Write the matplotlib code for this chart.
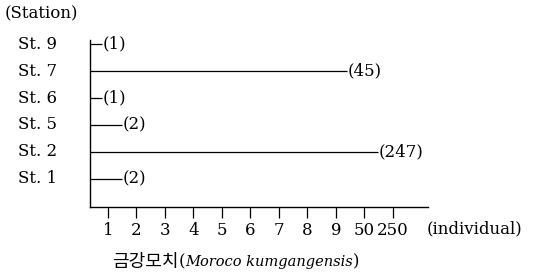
import numpy as np
import matplotlib
matplotlib.use("agg")
import matplotlib.pyplot as plt
from matplotlib.transforms import blended_transform_factory

stations = ["St. 9", "St. 7", "St. 6", "St. 5", "St. 2", "St. 1"]
counts = [1, 45, 1, 2, 247, 2]
tick_values = [1, 2, 3, 4, 5, 6, 7, 8, 9, 50, 250]
tick_labels = [str(v) for v in tick_values]

plt.rcParams["font.family"] = ["DejaVu Serif", "Noto Sans CJK KR"]
fs = 12
plt.rcParams["font.size"] = fs

# broken scale: 1..9 evenly spaced, then 50 and 250 one step each
tick_pos = np.arange(1, len(tick_values) + 1)


def to_pos(v):
    return np.interp(v, tick_values, tick_pos)


fig = plt.figure(figsize=(5.41, 2.80), dpi=100)
W, H = 541, 280
ax = fig.add_axes([90 / W, 1 - 207 / H, (428 - 90) / W, (207 - 40) / H])

x0 = 0.37
ax.set_xlim(x0, 12.23)
ax.set_ylim(6.04, -0.15)

ys = np.arange(len(stations))
for y, c in zip(ys, counts):
    end = max(to_pos(c) - 0.5, x0 + 0.42)
    ax.plot([x0, end], [y, y], color="black", lw=0.9, solid_capstyle="butt")
    ax.text(end + 0.02, y, "({})".format(c), va="center", ha="left", fontsize=fs)

for s in ["top", "right"]:
    ax.spines[s].set_visible(False)
for s in ["left", "bottom"]:
    ax.spines[s].set_linewidth(1.0)

ax.set_xticks(tick_pos)
ax.set_xticklabels(tick_labels)
ax.tick_params(axis="x", direction="out", length=8, width=0.9, pad=3, labelsize=fs)
ax.set_yticks([])

trans = blended_transform_factory(fig.transFigure, ax.transData)
for y, name in zip(ys, stations):
    ax.text(18 / W, y, name, transform=trans, va="center", ha="left", fontsize=fs)

fig.text(5 / W, 1 - 14 / H, "(Station)", va="center", ha="left", fontsize=fs)
fig.text(427 / W, 1 - 229 / H, "(individual)", va="center", ha="left", fontsize=fs)

# species label: Korean name + italic Latin name
ty = 1 - 262 / H
parts = [("금강모치", dict(fontsize=13, family=["Noto Sans CJK KR"])),
         ("(", dict(fontsize=fs)),
         ("Moroco kumgangensis", dict(fontsize=10.5, style="italic")),
         (")", dict(fontsize=fs))]
x = 112
for s, kw in parts:
    t = fig.text(x / W, ty, s, va="center", ha="left", **kw)
    fig.canvas.draw()
    x = t.get_window_extent().x1

fig.savefig("out.png", dpi=100)
